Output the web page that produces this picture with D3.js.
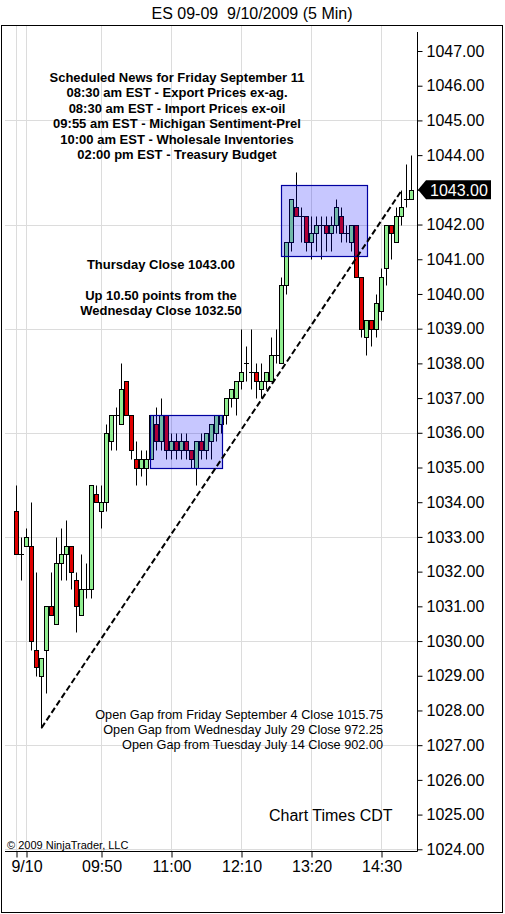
<!DOCTYPE html>
<html>
<head>
<meta charset="utf-8">
<script src="https://cdn.jsdelivr.net/npm/d3@7"></script>
<style>
  body { margin: 0; background: #fff; }
  svg { display: block; font-family: "Liberation Sans", Arial, sans-serif; }
</style>
</head>
<body>
<div id="chart"></div>
<script>

//----------------------------
// Data (ES 09-09, 5 min bars, 9/10/2009)
//----------------------------

var opens = [
    1033.75, 1032.5, 1032.75, 1032.75, 1029.75, 1029.0, 1029.75, 1031.0, 1030.5, 1032.25,
    1032.5, 1032.75, 1031.75, 1030.75, 1031.5, 1031.5, 1034.25, 1033.75, 1034.0, 1035.75,
    1036.5, 1036.25, 1037.5, 1036.5, 1035.25, 1035.0, 1035.0, 1035.25, 1036.25, 1035.75,
    1036.5, 1035.5, 1035.75, 1035.5, 1035.75, 1035.5, 1035.0, 1035.75, 1035.5, 1035.75,
    1036.0, 1036.25, 1036.5, 1037.0, 1037.0, 1037.5, 1038.0, 1037.75, 1037.75, 1037.25,
    1037.5, 1037.5, 1038.25, 1038.0, 1040.25, 1041.5, 1042.5, 1042.25, 1042.25, 1041.5,
    1041.75, 1042.0, 1042.0, 1041.75, 1042.0, 1042.25, 1041.75, 1041.5, 1042.0, 1040.5,
    1038.75, 1039.25, 1039.0, 1039.5, 1040.75, 1042.0, 1041.5, 1042.25, 1042.75, 1042.75
];
var highs = [
    1034.5, 1033.0, 1033.25, 1034.0, 1032.0, 1029.5, 1031.0, 1032.0, 1033.0, 1033.25,
    1033.5, 1032.75, 1032.0, 1032.5, 1032.25, 1034.5, 1034.5, 1034.5, 1036.25, 1036.5,
    1036.75, 1038.0, 1037.5, 1036.5, 1035.75, 1035.5, 1035.5, 1036.5, 1036.75, 1037.0,
    1036.5, 1036.0, 1036.0, 1036.0, 1036.0, 1035.5, 1035.75, 1036.0, 1036.0, 1036.25,
    1036.5, 1036.5, 1037.0, 1037.25, 1037.5, 1039.0, 1038.5, 1039.0, 1038.0, 1038.0,
    1037.75, 1038.75, 1039.0, 1040.5, 1041.5, 1042.75, 1043.5, 1042.5, 1042.25, 1042.25,
    1042.25, 1042.25, 1042.25, 1042.25, 1042.75, 1042.5, 1042.0, 1042.0, 1042.0, 1040.5,
    1039.25, 1039.25, 1040.0, 1040.75, 1042.0, 1042.0, 1042.5, 1043.0, 1043.75, 1044.0
];
var lows = [
    1032.5, 1031.75, 1032.75, 1029.75, 1029.0, 1027.5, 1028.5, 1030.75, 1030.5, 1031.75,
    1031.75, 1031.5, 1030.25, 1030.75, 1031.25, 1031.25, 1034.0, 1033.25, 1033.75, 1035.5,
    1035.5, 1036.25, 1036.5, 1035.25, 1034.5, 1034.75, 1034.5, 1035.25, 1035.5, 1035.5,
    1035.25, 1035.25, 1035.25, 1035.25, 1035.25, 1035.0, 1034.5, 1035.25, 1035.25, 1035.25,
    1035.75, 1036.0, 1036.25, 1036.75, 1036.5, 1037.25, 1037.5, 1037.25, 1037.0, 1037.0,
    1037.25, 1037.5, 1038.0, 1038.0, 1040.0, 1041.25, 1042.25, 1041.5, 1041.25, 1041.0,
    1041.25, 1041.0, 1041.25, 1041.25, 1041.75, 1041.5, 1041.5, 1041.25, 1040.5, 1038.75,
    1038.25, 1038.5, 1038.75, 1039.25, 1040.25, 1041.0, 1041.5, 1042.0, 1042.5, 1042.75
];
var closes = [
    1032.5, 1032.5, 1033.0, 1030.0, 1029.25, 1029.5, 1031.0, 1030.75, 1032.25, 1032.5,
    1032.75, 1032.0, 1031.0, 1031.5, 1031.5, 1034.5, 1034.0, 1034.0, 1036.0, 1036.5,
    1036.5, 1037.25, 1036.5, 1035.5, 1035.0, 1035.25, 1035.25, 1036.5, 1035.75, 1036.5,
    1035.5, 1035.75, 1035.5, 1035.75, 1035.5, 1035.25, 1035.75, 1035.5, 1036.0, 1036.25,
    1036.5, 1036.5, 1037.0, 1037.25, 1037.5, 1037.75, 1038.0, 1037.75, 1037.5, 1037.5,
    1037.75, 1038.25, 1038.25, 1040.25, 1041.5, 1042.75, 1042.25, 1042.25, 1041.5, 1041.75,
    1042.0, 1042.0, 1041.75, 1042.0, 1042.5, 1041.75, 1041.75, 1042.0, 1040.5, 1039.0,
    1039.25, 1039.0, 1039.75, 1040.5, 1042.0, 1041.75, 1042.25, 1042.5, 1042.75, 1043.0
];

// time axis (bar index of each labelled tick)
var tickBars = [0, 2, 17, 31, 45, 59, 73];
var tickLabels = ["", "9/10", "09:50", "11:00", "12:10", "13:20", "14:30"];

// consolidation boxes (bar index range, price range)
var boxStart = [26.7, 52.9];
var boxEnd = [41.05, 70.05];
var boxLow = [1035.0, 1041.1];
var boxHigh = [1036.5, 1043.15];

// trend line
var trendBars = [5, 77.1];
var trendPrices = [1027.5, 1043.0];

var lastPrice = 1043.00;

var newsLines = [
    "Scheduled News for Friday September 11",
    "08:30 am EST - Export Prices ex-ag.",
    "08:30 am EST - Import Prices ex-oil",
    "09:55 am EST - Michigan Sentiment-Prel",
    "10:00 am EST - Wholesale Inventories",
    "02:00 pm EST - Treasury Budget"
];
var closeLines = ["Thursday Close 1043.00", "", "Up 10.50 points from the", "Wednesday Close 1032.50"];
var gapLines = [
    "Open Gap from Friday September 4 Close 1015.75",
    "Open Gap from Wednesday July 29 Close 972.25",
    "Open Gap from Tuesday July 14 Close 902.00"
];

//----------------------------
// Setup
//----------------------------

var W = 505, H = 914;
var plotLeft = 5, plotRight = 417.5, plotTop = 26, plotBottom = 851.5;

var svg = d3.select("#chart")
    .append("svg")
    .attr("width", W)
    .attr("height", H);

svg.append("rect")
    .attr("width", W).attr("height", H)
    .attr("fill", "#fff");

var x = d3.scaleLinear().domain([0, 79]).range([16.5, 411.5]);
var y = d3.scaleLinear().domain([1024, 1047]).range([849.3, 51]);

function py(v) { return Math.round(y(v)) + 0.5; }

//----------------------------
// Grid
//----------------------------

svg.append("g")
    .selectAll("line")
    .data(d3.range(1024, 1047, 3))
    .enter()
    .append("line")
    .attr("x1", plotLeft).attr("x2", plotRight)
    .attr("y1", d => py(d)).attr("y2", d => py(d))
    .attr("stroke", "#dcdcdc");

svg.append("g")
    .selectAll("line")
    .data(tickBars)
    .enter()
    .append("line")
    .attr("x1", d => x(d)).attr("x2", d => x(d))
    .attr("y1", plotTop).attr("y2", plotBottom)
    .attr("stroke", "#dcdcdc");

//----------------------------
// Candles
//----------------------------

var bars = opens.map((o, i) => ({ i: i, o: o, h: highs[i], l: lows[i], c: closes[i] }));

var candle = svg.append("g")
    .selectAll("g")
    .data(bars)
    .enter()
    .append("g");

candle.append("line")
    .attr("x1", d => x(d.i)).attr("x2", d => x(d.i))
    .attr("y1", d => py(d.h)).attr("y2", d => py(d.l))
    .attr("stroke", "#000");

candle.filter(d => d.o !== d.c)
    .append("rect")
    .attr("x", d => x(d.i) - 2)
    .attr("width", 4)
    .attr("y", d => py(Math.max(d.o, d.c)))
    .attr("height", d => py(Math.min(d.o, d.c)) - py(Math.max(d.o, d.c)))
    .attr("fill", d => d.c > d.o ? "#90ee90" : "#e00000")
    .attr("stroke", "#000");

candle.filter(d => d.o === d.c)
    .append("line")
    .attr("x1", d => x(d.i) - 2.5).attr("x2", d => x(d.i) + 2.5)
    .attr("y1", d => py(d.c)).attr("y2", d => py(d.c))
    .attr("stroke", "#000");

//----------------------------
// Boxes and trend line
//----------------------------

svg.append("g")
    .selectAll("rect")
    .data(boxStart)
    .enter()
    .append("rect")
    .attr("x", (d, i) => Math.round(x(d)) + 0.5)
    .attr("y", (d, i) => py(boxHigh[i]))
    .attr("width", (d, i) => Math.round(x(boxEnd[i]) - x(d)))
    .attr("height", (d, i) => py(boxLow[i]) - py(boxHigh[i]))
    .attr("fill", "rgba(0,0,255,0.22)")
    .attr("stroke", "#0000a0")
    .attr("stroke-width", 1.2);

svg.append("line")
    .attr("x1", x(trendBars[0])).attr("y1", y(trendPrices[0]))
    .attr("x2", x(trendBars[1])).attr("y2", y(trendPrices[1]))
    .attr("stroke", "#000")
    .attr("stroke-width", 2)
    .attr("stroke-dasharray", "6,3");

//----------------------------
// Axes
//----------------------------

var yAxis = svg.append("g")
    .attr("transform", "translate(" + plotRight + ",0)")
    .call(d3.axisRight(y)
        .tickValues(d3.range(1024, 1048))
        .tickSize(5)
        .tickPadding(4)
        .tickFormat(d3.format(".2f")));
yAxis.select(".domain").remove();
yAxis.selectAll("text").attr("font-size", 16).attr("font-family", null).attr("fill", "#000");
yAxis.selectAll("line").attr("stroke", "#000");
// the last price tag sits on top of this label
yAxis.selectAll(".tick").filter(d => d === lastPrice).select("text").remove();

svg.append("line")
    .attr("x1", plotRight).attr("x2", plotRight)
    .attr("y1", 32).attr("y2", plotBottom)
    .attr("stroke", "#000");

var xAxis = svg.append("g")
    .attr("transform", "translate(0," + plotBottom + ")")
    .call(d3.axisBottom(x)
        .tickValues(tickBars)
        .tickSize(6)
        .tickPadding(3)
        .tickFormat((d, i) => tickLabels[i]));
xAxis.select(".domain").remove();
xAxis.selectAll("text").attr("font-size", 16).attr("font-family", null).attr("fill", "#000");
xAxis.selectAll("line").attr("stroke", "#000");

svg.append("line")
    .attr("x1", plotLeft).attr("x2", plotRight)
    .attr("y1", plotBottom).attr("y2", plotBottom)
    .attr("stroke", "#000");

// last price tag
var ty = y(lastPrice);
svg.append("path")
    .attr("d", "M418," + ty + " L426," + (ty - 9.5) + " L491," + (ty - 9.5) +
        " L491," + (ty + 9.5) + " L426," + (ty + 9.5) + " Z")
    .attr("fill", "#000");
svg.append("text")
    .attr("x", 430).attr("y", ty + 5.8)
    .attr("font-size", 16)
    .attr("fill", "#fff")
    .text(d3.format(".2f")(lastPrice));

//----------------------------
// Texts
//----------------------------

svg.append("text")
    .attr("x", 252).attr("y", 19)
    .attr("text-anchor", "middle")
    .attr("font-size", 16)
    .style("white-space", "pre")
    .text("ES 09-09  9/10/2009 (5 Min)");

svg.append("g")
    .selectAll("text")
    .data(newsLines)
    .enter()
    .append("text")
    .attr("x", 177)
    .attr("y", (d, i) => 82 + i * 15.4)
    .attr("text-anchor", "middle")
    .attr("font-size", 13)
    .attr("font-weight", "bold")
    .text(d => d);

svg.append("g")
    .selectAll("text")
    .data(closeLines)
    .enter()
    .append("text")
    .attr("x", 161)
    .attr("y", (d, i) => 269 + i * 15.3)
    .attr("text-anchor", "middle")
    .attr("font-size", 13)
    .attr("font-weight", "bold")
    .text(d => d);

svg.append("g")
    .selectAll("text")
    .data(gapLines)
    .enter()
    .append("text")
    .attr("x", 383)
    .attr("y", (d, i) => 718.5 + i * 15)
    .attr("text-anchor", "end")
    .attr("font-size", 12.7)
    .text(d => d);

svg.append("text")
    .attr("x", 269).attr("y", 821)
    .attr("font-size", 16)
    .text("Chart Times CDT");

svg.append("text")
    .attr("x", 7).attr("y", 849)
    .attr("font-size", 11)
    .text("\u00a9 2009 NinjaTrader, LLC");

// outer frame
svg.append("rect")
    .attr("x", 1.5).attr("y", 25.5)
    .attr("width", 501).attr("height", 887)
    .attr("fill", "none")
    .attr("stroke", "#000");

</script>
</body>
</html>
